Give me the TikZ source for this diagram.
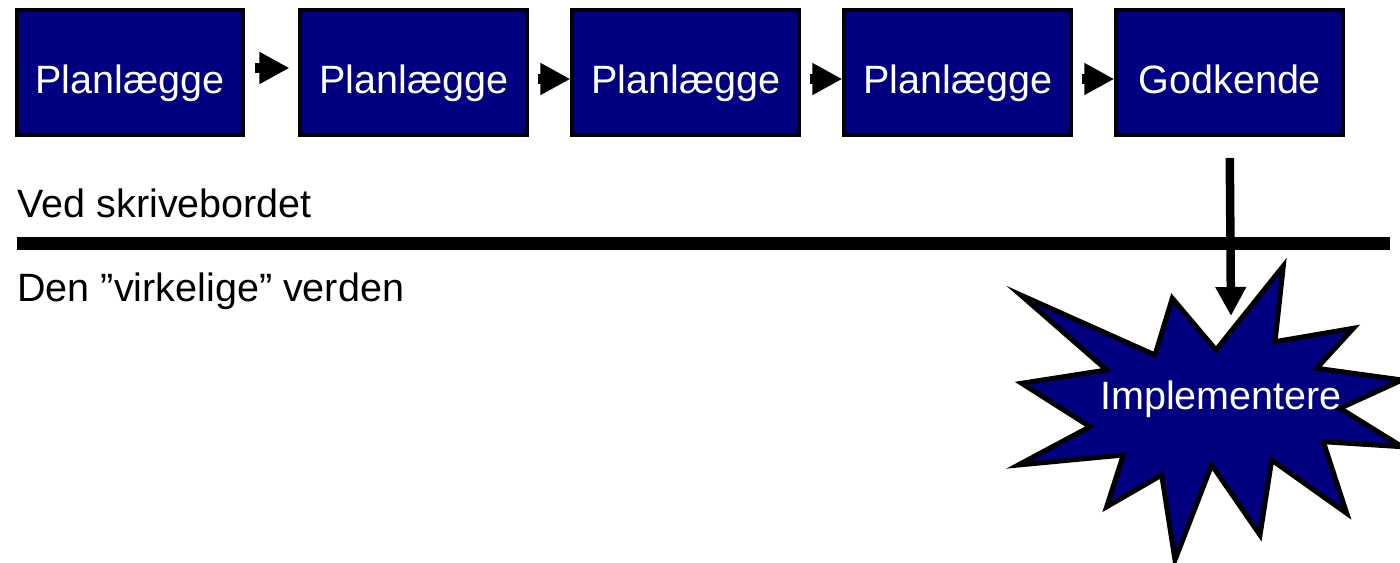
\documentclass[tikz,border=0pt]{standalone}
\usepackage{fontspec}
\setmainfont{Liberation Sans}
\usetikzlibrary{arrows.meta,positioning,calc}
\definecolor{cBox}{HTML}{000080}
\newcommand{\lbl}{\fontsize{22.5pt}{27pt}\selectfont}
\tikzset{
  every picture/.style={line width=0.5pt},
  box/.style={draw=black, fill=cBox, line width=0.08cm, minimum width=4.54cm,
              minimum height=2.5cm, inner sep=0pt, text=white, font=\lbl,
              text height=0.86cm, text depth=0pt},
  ann/.style={font=\lbl, inner sep=0pt},
  fat/.style={-{Triangle[length=0.6cm,width=0.6cm]}, line width=0.2cm},
  down/.style={-{Triangle[length=0.58cm,width=0.58cm]}, line width=0.17cm},
}

\begin{document}
\begin{tikzpicture}[x=0.02cm,y=-0.02cm]
\useasboundingbox (0,0) rectangle (1400,563);

% ================================================== the desk: steps in a row
\node[box] (p1) at (130,72.5) {Planlægge};
\node[box, right=1.06cm of p1] (p2) {Planlægge};
\node[box, right=0.82cm of p2] (p3) {Planlægge};
\node[box, right=0.82cm of p3] (p4) {Planlægge};
\node[box, right=0.82cm of p4] (gk) {Godkende};

\draw[fat] ($(p1.east)+(10,-4.5)$) -- ($(p2.west)+(-9,-4.5)$);
\draw[fat] ($(p2.east)+(9,6.5)$) -- ($(p3.west)+(0,6.5)$);
\draw[fat] ($(p3.east)+(9,6.5)$) -- ($(p4.west)+(0,6.5)$);
\draw[fat] ($(p4.east)+(9,6.5)$) -- ($(gk.west)+(0,6.5)$);

% ================================================== the divider
\node[ann, anchor=base west] (desk) at (17,218) {Ved skrivebordet};
\draw[line width=0.25cm] (17,243.5) -- (1390,243.5);
\node[ann, anchor=base west] (world) at (17,302) {Den ”virkelige” verden};

% ================================================== the real world: burst
\draw[line width=0.1cm, fill=cBox, line join=miter]
  (1020.7,295) -- (1155,355) -- (1172.3,298.3) -- (1216,350)
  -- (1283.3,266) -- (1275,341.7) -- (1353.3,328.3) -- (1316.7,368.3)
  -- (1402,380) -- (1340,408.3) -- (1402,446.7) -- (1323.3,441.7)
  -- (1346.7,513.3) -- (1271.7,460) -- (1260,535) -- (1211.7,465)
  -- (1175,560) -- (1161.7,475) -- (1106.7,506.7) -- (1123.3,455)
  -- (1018.3,465) -- (1090,426.7) -- (1021.7,383.3) -- (1106.7,370) -- cycle;
\node[ann, text=white, anchor=base] (impl) at (1221,410) {Implementere};

\coordinate (hit) at (1231,316);
\draw[down] ($(gk.south)+(0,21)$) -- (hit);

\end{tikzpicture}
\end{document}
